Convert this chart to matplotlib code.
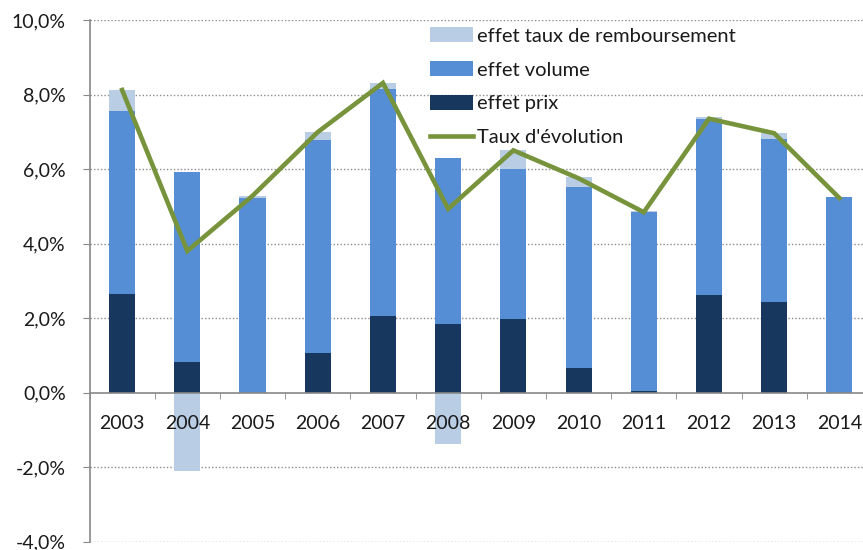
import numpy as np
import matplotlib
matplotlib.use("Agg")
import matplotlib.pyplot as plt
from matplotlib.ticker import FuncFormatter, FixedLocator

plt.rcParams['font.family'] = ['Lato', 'DejaVu Sans']

# data (percent)
years = ['2003', '2004', '2005', '2006', '2007', '2008',
         '2009', '2010', '2011', '2012', '2013', '2014']
effet_prix = [2.64, 0.81, 0.00, 1.06, 2.06, 1.85, 1.97, 0.67, 0.05, 2.63, 2.42, 0.00]
effet_volume = [4.92, 5.10, 5.23, 5.72, 6.09, 4.45, 4.03, 4.85, 4.80, 4.71, 4.38, 5.24]
effet_taux = [0.56, -2.10, 0.05, 0.21, 0.16, -1.37, 0.52, 0.27, 0.01, 0.06, 0.17, 0.02]
taux_evolution = [8.12, 3.80, 5.28, 6.99, 8.31, 4.93, 6.50, 5.75, 4.84, 7.35, 6.96, 5.22]

c_taux = '#B9CDE5'
c_vol = '#558ED5'
c_prix = '#17375E'
c_line = '#77933C'

fig = plt.figure(figsize=(8.63, 5.5), dpi=100)
ax = fig.add_axes([89.5 / 863, 8.5 / 550, 782.5 / 863, 521.5 / 550])
ax.set_axisbelow(False)

x = np.arange(len(years))
prix = np.array(effet_prix)
vol = np.array(effet_volume)
taux = np.array(effet_taux)
w = 0.4

b_prix = ax.bar(x, prix, w, color=c_prix, zorder=2)
b_vol = ax.bar(x, vol, w, bottom=prix, color=c_vol, zorder=2)
taux_bottom = np.where(taux >= 0, prix + vol, 0)
b_taux = ax.bar(x, taux, w, bottom=taux_bottom, color=c_taux, zorder=2)
line, = ax.plot(x, taux_evolution, color=c_line, lw=3.3, solid_joinstyle='miter', zorder=3)

ax.set_xlim(-0.5, len(years) - 0.5)
ax.set_ylim(-4, 10)

# y axis
ax.set_yticks(np.arange(-4, 10.1, 2))
ax.yaxis.set_major_formatter(FuncFormatter(lambda v, p: f"{v:.1f}%".replace('.', ',')))
ax.tick_params(axis='y', direction='out', length=5, color='#888888', pad=12,
               labelsize=14, labelcolor='#1a1a1a')
for v in np.arange(-4, 10.1, 2):
    if v != 0:
        ax.axhline(v, color='#8c8c8c', lw=1, ls=(0, (1, 1.5)), zorder=1)

# x axis at zero
ax.spines['bottom'].set_position(('data', 0))
ax.spines['bottom'].set_color('#888888')
ax.spines['bottom'].set_linewidth(1.2)
ax.spines['bottom'].set_zorder(4)
ax.spines['left'].set_color('#888888')
ax.spines['left'].set_linewidth(1.2)
ax.spines['top'].set_visible(False)
ax.spines['right'].set_visible(False)
ax.set_xticks(x)
ax.set_xticklabels(years)
ax.xaxis.set_minor_locator(FixedLocator(np.arange(-0.5, len(years), 1)))
ax.tick_params(axis='x', which='major', length=0, pad=16.5, labelsize=14,
               labelcolor='#1a1a1a')
ax.tick_params(axis='x', which='minor', direction='out', length=4, color='#888888')

leg = ax.legend([b_taux, b_vol, b_prix, line],
                ['effet taux de remboursement', 'effet volume', 'effet prix', "Taux d'évolution"],
                loc='upper left', bbox_to_anchor=(430 / 863, 1 - 27 / 550),
                bbox_transform=fig.transFigure, frameon=False, fontsize=14.5,
                handlelength=2.15, handleheight=0.8, handletextpad=0.2,
                labelspacing=0.8, borderpad=0, borderaxespad=0)
for t in leg.get_texts():
    t.set_color('#1a1a1a')

fig.savefig('out.png', dpi=100)
